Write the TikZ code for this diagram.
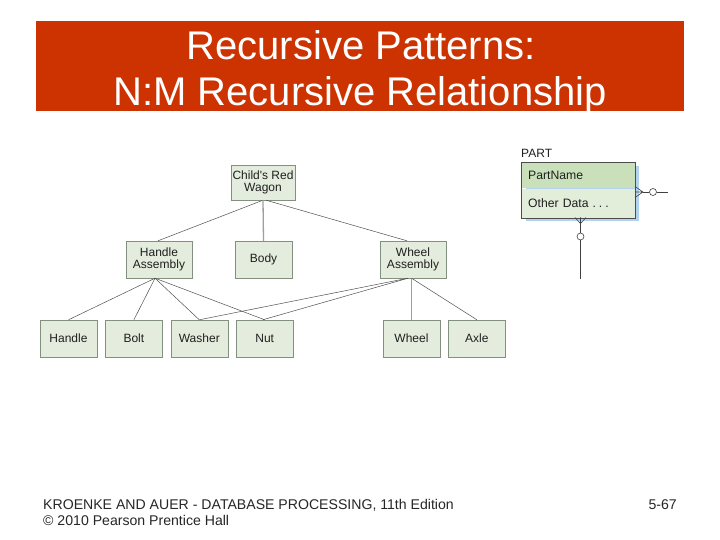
\documentclass[tikz,border=0pt]{standalone}
\usepackage{fontspec}
\setmainfont{Liberation Sans}
\usetikzlibrary{positioning}

\definecolor{titlered}{HTML}{CC3300}
\definecolor{boxfill}{HTML}{E4EDDD}
\definecolor{boxline}{HTML}{82907F}
\definecolor{hdrfill}{HTML}{C9E0BA}
\definecolor{bodyfill}{HTML}{E2EDDA}
\definecolor{shadowblue}{HTML}{B3D2EE}
\definecolor{linkgray}{HTML}{505050}

\begin{document}
\begin{tikzpicture}[x=1pt, y=-1pt,
  part/.style={draw=boxline, fill=boxfill, minimum width=57pt, minimum height=37pt,
    inner sep=0pt, align=center, text=black!88, font=\fontsize{12}{12.5}\selectfont},
  link/.style={linkgray, line width=0.5pt},
  stem/.style={gray!75, line width=1.3pt},
  erline/.style={black!75, line width=0.6pt},
  ring/.style={circle, draw=black!75, line width=0.6pt, fill=white, minimum size=7pt, inner sep=0pt},
  field/.style={minimum width=113.5pt, minimum height=25.5pt, inner xsep=6.5pt,
    text width=100.5pt, align=left, text=black!88, font=\fontsize{12.2}{13}\selectfont}
]
  % Drawing parameters
  \pgfmathsetmacro{\gap}{8}
  \pgfmathsetmacro{\rowy}{338.5}

  \useasboundingbox (0,0) rectangle (720,540);
  \fill[white] (0,0) rectangle (720,540);

  % title bar
  \fill[titlered] (36,21) rectangle (684,111);
  \node[anchor=base, text=white, font=\fontsize{40}{40}\selectfont] (title1) at (361,60) {Recursive Patterns:};
  \node[anchor=base, text=white, font=\fontsize{40}{40}\selectfont] (title2) at (360,106) {N:M Recursive Relationship};

  % parts tree
  \node[part, minimum width=64pt, minimum height=35pt] (wagon) at (263,182.5) {Child\textquotesingle s Red\\Wagon};
  \node[part, minimum width=66pt] (hasm) at (159,259.5) {Handle\\Assembly};
  \node[part] (body) at (263.5,259.5) {Body};
  \node[part, minimum width=66pt] (wasm) at (413,259.5) {Wheel\\Assembly};

  \node[part] (handle) at (68.5,\rowy) {Handle};
  \node[part, right=\gap pt of handle] (bolt) {Bolt};
  \node[part, right=\gap pt of bolt] (washer) {Washer};
  \node[part, right=\gap pt of washer] (nut) {Nut};
  \node[part] (wheel) at (411.5,\rowy) {Wheel};
  \node[part, right=\gap pt of wheel] (axle) {Axle};

  \draw[link] (wagon.south) -- ([xshift=-1pt]hasm.north);
  \draw[stem] (wagon.south) -- (body.north);
  \draw[link] ([xshift=3pt]wagon.south) -- ([xshift=-6pt]wasm.north);

  \draw[link] ([xshift=-4pt]hasm.south) -- (handle.north);
  \draw[link] ([xshift=-4pt]hasm.south) -- (bolt.north);
  \draw[link] ([xshift=-4pt]hasm.south) -- (washer.north);
  \draw[link] ([xshift=-4pt]hasm.south) -- (nut.north);

  \draw[link] ([xshift=-5pt]wasm.south) -- (washer.north);
  \draw[link] ([xshift=-5pt]wasm.south) -- ([xshift=-2pt]nut.north);
  \draw[stem, line width=0.9pt] ([xshift=-1.5pt]wasm.south) -- (wheel.north);
  \draw[link] ([xshift=-1.5pt]wasm.south) -- (axle.north);

  % PART entity
  \node[anchor=base west, inner sep=0pt, text=black!88, font=\fontsize{12}{12}\selectfont] (plabel) at (521,157.5) {PART};
  \fill[shadowblue] (525.5,166.5) rectangle (639,221.5);
  \node[field, fill=hdrfill, anchor=north west] (pname) at (521.5,162.5) {PartName};
  \node[field, fill=bodyfill, below=0pt of pname, minimum height=29.5pt] (odata) {Other Data\hspace{4pt}.\hspace{3pt}.\hspace{3pt}.};
  \draw[black!70, line width=0.7pt] (pname.north west) rectangle (odata.south east);

  \coordinate (rtip) at (643,192);
  \coordinate (rend) at (668,192);
  \node[ring] (rring) at (653,192) {};
  \draw[erline] (rtip) -- (635,186.5) (rtip) -- (635,192) (rtip) -- (635,197.5);
  \draw[erline] (rtip) -- (rring) -- (rend);

  \coordinate (btip) at (580.5,223.5);
  \coordinate (bend) at (580.5,279);
  \node[ring] (bring) at (580.5,236.5) {};
  \draw[erline] (btip) -- (575,217.5) (btip) -- (580.5,217.5) (btip) -- (586,217.5);
  \draw[erline] (btip) -- (bring) -- (bend);

  % footer
  \node[anchor=base west, inner sep=0pt, text=black!85, font=\fontsize{14.1}{15}\selectfont] (foot1) at (43,509) {KROENKE AND AUER - DATABASE PROCESSING, 11th Edition};
  \node[anchor=base west, inner sep=0pt, text=black!85, font=\fontsize{14.1}{15}\selectfont] (foot2) at (43,525.5) {© 2010 Pearson Prentice Hall};
  \node[anchor=base east, inner sep=0pt, text=black!85, font=\fontsize{14.1}{15}\selectfont] (slide) at (677,509) {5-67};
\end{tikzpicture}
\end{document}
